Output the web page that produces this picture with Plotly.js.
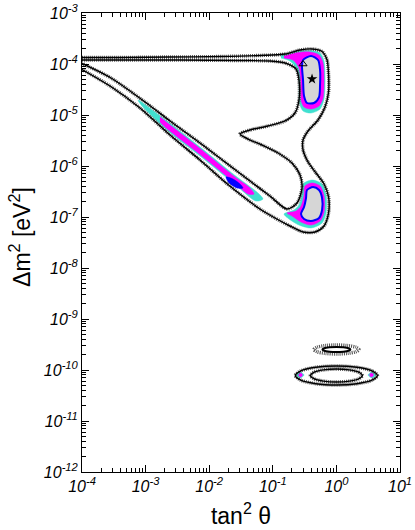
<!DOCTYPE html>
<html>
<head>
<meta charset="utf-8">
<script src="https://cdn.plot.ly/plotly-3.0.1.min.js"></script>
<style>
html,body{margin:0;padding:0;background:#fff;}
#chart{width:415px;height:530px;}
</style>
</head>
<body>
<div id="chart"></div>
<script>
/* ==========================================
   CONTOUR DATA  (x = tan^2 theta, y = dm^2 [eV^2])
========================================== */

// outer edge of the big allowed band
const outerTan2 = [1e-4, 3.96e-4, 2.42e-3, 1.48e-2, 0.0628, 0.156, 0.268, 0.414, 0.595, 0.713, 0.753, 0.753, 0.663, 0.514, 0.358, 0.299, 0.299, 0.358, 0.478, 0.639, 0.753, 0.753, 0.639, 0.461, 0.299, 0.186, 0.108, 0.0628, 0.0365, 0.0177, 7.17e-3, 2.42e-3, 8.16e-4, 2.76e-4, 1e-4];
const outerDm2 = [1.34e-4, 1.34e-4, 1.37e-4, 1.40e-4, 1.47e-4, 1.57e-4, 1.88e-4, 1.97e-4, 1.76e-4, 1.20e-4, 6.08e-5, 2.83e-5, 1.44e-5, 7.98e-6, 4.86e-6, 3.23e-6, 2.06e-6, 1.20e-6, 7.29e-7, 4.44e-7, 2.47e-7, 1.20e-7, 6.66e-8, 5.08e-8, 5.08e-8, 6.66e-8, 9.56e-8, 1.435e-7, 2.36e-7, 4.86e-7, 1.31e-6, 4.05e-6, 1.372e-5, 3.70e-5, 7.80e-5];

// inner (excluded) hole
const holeTan2 = [1e-4, 3.96e-4, 3.47e-3, 0.0305, 0.0902, 0.156, 0.232, 0.258, 0.258, 0.223, 0.156, 0.0839, 0.0438, 0.0305, 0.0407, 0.0675, 0.121, 0.200, 0.268, 0.288, 0.240, 0.167, 0.0902, 0.0438, 0.0177, 7.17e-3, 2.42e-3, 9.79e-4, 2.86e-4, 1e-4];
const holeDm2 = [1.198e-4, 1.198e-4, 1.198e-4, 1.171e-4, 1.145e-4, 1.046e-4, 7.98e-5, 4.86e-5, 1.97e-5, 1.094e-5, 7.63e-6, 6.09e-6, 5.08e-6, 4.24e-6, 3.38e-6, 2.58e-6, 1.80e-6, 1.145e-6, 6.66e-7, 3.70e-7, 1.88e-7, 1.435e-7, 2.58e-7, 5.08e-7, 1.198e-6, 2.83e-6, 7.63e-6, 1.80e-5, 5.31e-5, 1.023e-4];

// LMA island
const lmaCyanTan2 = [0.1345, 0.223, 0.399, 0.553, 0.639, 0.663, 0.639, 0.553, 0.399, 0.299, 0.263, 0.258, 0.240, 0.186, 0.1345];
const lmaCyanDm2 = [1.50e-4, 1.758e-4, 1.839e-4, 1.643e-4, 1.145e-4, 4.86e-5, 2.06e-5, 1.31e-5, 1.094e-5, 1.198e-5, 1.72e-5, 4.86e-5, 7.98e-5, 1.145e-4, 1.311e-4];
const lmaMagTan2 = [0.150, 0.223, 0.385, 0.533, 0.617, 0.639, 0.617, 0.533, 0.399, 0.310, 0.278, 0.273, 0.258, 0.208, 0.150];
const lmaMagDm2 = [1.435e-4, 1.643e-4, 1.719e-4, 1.501e-4, 1.046e-4, 4.86e-5, 2.154e-5, 1.50e-5, 1.31e-5, 1.435e-5, 1.97e-5, 4.86e-5, 8.35e-5, 1.198e-4, 1.311e-4];
const lmaGrayTan2 = [0.299, 0.399, 0.514, 0.553, 0.553, 0.533, 0.445, 0.345, 0.310, 0.299, 0.288, 0.299];
const lmaGrayDm2 = [1.198e-4, 1.435e-4, 1.198e-4, 7.63e-5, 3.87e-5, 2.25e-5, 1.72e-5, 1.72e-5, 2.36e-5, 4.86e-5, 9.14e-5, 1.198e-4];

// LOW island
const lowCyanTan2 = [0.299, 0.414, 0.595, 0.687, 0.687, 0.595, 0.399, 0.258, 0.180, 0.150, 0.215, 0.258, 0.288, 0.299];
const lowCyanDm2 = [4.44e-7, 5.31e-7, 4.44e-7, 2.70e-7, 1.198e-7, 7.63e-8, 6.09e-8, 6.97e-8, 9.14e-8, 1.145e-7, 1.37e-7, 1.72e-7, 2.825e-7, 4.44e-7];
const lowMagTan2 = [0.321, 0.414, 0.553, 0.639, 0.639, 0.553, 0.399, 0.278, 0.200, 0.167, 0.232, 0.278, 0.310, 0.321];
const lowMagDm2 = [4.05e-7, 4.64e-7, 4.05e-7, 2.58e-7, 1.25e-7, 8.35e-8, 6.97e-8, 7.98e-8, 1.046e-7, 1.198e-7, 1.31e-7, 1.643e-7, 2.70e-7, 4.05e-7];
const lowGrayTan2 = [0.345, 0.429, 0.533, 0.595, 0.595, 0.533, 0.399, 0.310, 0.278, 0.310, 0.333, 0.345];
const lowGrayDm2 = [3.38e-7, 3.87e-7, 3.38e-7, 2.36e-7, 1.37e-7, 9.56e-8, 8.35e-8, 9.14e-8, 1.145e-7, 1.57e-7, 2.36e-7, 3.38e-7];

// diagonal (SMA-like) stripe
const smaCyanTan2 = [7.60e-4, 2.02e-3, 7.17e-3, 2.545e-2, 5.85e-2, 0.0700, 5.44e-2, 2.545e-2, 7.17e-3, 2.02e-3, 8.78e-4, 7.60e-4];
const smaCyanDm2 = [1.97e-5, 8.16e-6, 2.358e-6, 6.515e-7, 2.954e-7, 2.254e-7, 2.059e-7, 4.337e-7, 1.571e-6, 5.435e-6, 1.501e-5, 1.97e-5];
const smaMagTan2 = [1.68e-3, 2.02e-3, 7.17e-3, 2.545e-2, 4.38e-2, 5.06e-2, 4.07e-2, 2.545e-2, 7.17e-3, 2.02e-3, 1.68e-3];
const smaMagDm2 = [9.14e-6, 7.63e-6, 2.203e-6, 6.09e-7, 3.70e-7, 2.825e-7, 2.825e-7, 4.64e-7, 1.680e-6, 5.815e-6, 7.29e-6];
const smaBlueTan2 = [1.84e-2, 2.37e-2, 3.05e-2, 3.40e-2, 2.74e-2, 2.05e-2, 1.84e-2];
const smaBlueDm2 = [6.09e-7, 5.56e-7, 4.44e-7, 3.70e-7, 3.70e-7, 4.64e-7, 6.09e-7];

// vacuum islands near dm^2 ~ 1e-10
const vacOuterTan2 = [4.42, 3.62, 2.10, 1.0, 0.475, 0.276, 0.226, 0.276, 0.475, 1.0, 2.10, 3.62, 4.42];
const vacOuterDm2 = [7.80e-11, 9.66e-11, 1.13e-10, 1.20e-10, 1.13e-10, 9.66e-11, 7.80e-11, 6.30e-11, 5.38e-11, 5.08e-11, 5.38e-11, 6.30e-11, 7.80e-11];
const vacInnerTan2 = [2.56, 2.26, 1.60, 1.0, 0.625, 0.442, 0.390, 0.442, 0.625, 1.0, 1.60, 2.26, 2.56];
const vacInnerDm2 = [7.80e-11, 9.03e-11, 1.005e-10, 1.045e-10, 1.005e-10, 9.03e-11, 7.80e-11, 6.74e-11, 6.05e-11, 5.82e-11, 6.05e-11, 6.74e-11, 7.80e-11];
const vacSmallTan2 = [1.66, 1.55, 1.29, 1.0, 0.776, 0.645, 0.603, 0.645, 0.776, 1.0, 1.29, 1.55, 1.66];
const vacSmallDm2 = [2.52e-10, 2.67e-10, 2.78e-10, 2.82e-10, 2.78e-10, 2.67e-10, 2.52e-10, 2.38e-10, 2.29e-10, 2.25e-10, 2.29e-10, 2.38e-10, 2.52e-10];
const vacSmallDotTan2 = [2.26, 2.03, 1.50, 1.0, 0.665, 0.494, 0.443, 0.494, 0.665, 1.0, 1.50, 2.03, 2.26];
const vacSmallDotDm2 = [2.52e-10, 2.79e-10, 3.01e-10, 3.09e-10, 3.01e-10, 2.79e-10, 2.52e-10, 2.28e-10, 2.12e-10, 2.06e-10, 2.12e-10, 2.28e-10, 2.52e-10];
const vacCyanLTan2 = [0.232, 0.268, 0.310, 0.268, 0.232];
const vacCyanRTan2 = [3.14, 3.63, 4.19, 3.63, 3.14];
const vacCyanDm2 = [7.98e-11, 9.14e-11, 7.98e-11, 6.97e-11, 7.98e-11];
const vacMagLTan2 = [0.254, 0.273, 0.293, 0.273, 0.254];
const vacMagRTan2 = [3.31, 3.56, 3.83, 3.56, 3.31];
const vacMagDm2 = [7.98e-11, 8.73e-11, 7.98e-11, 7.29e-11, 7.98e-11];

// best-fit points
const starTan2 = [0.414];
const starDm2 = [5.08e-5];
const triTan2 = [0.299];
const triDm2 = [1.0e-4];

// axis ticks
const xTickVals = [1e-4, 1e-3, 1e-2, 1e-1, 1, 10];
const xTickText = ["10<sup>-4</sup>", "10<sup>-3</sup>", "10<sup>-2</sup>", "10<sup>-1</sup>", "10<sup>0</sup>", "10<sup>1</sup>"];
const yTickVals = [1e-12, 1e-11, 1e-10, 1e-9, 1e-8, 1e-7, 1e-6, 1e-5, 1e-4, 1e-3];
const yTickText = ["10<sup>-12</sup>", "10<sup>-11</sup>", "10<sup>-10</sup>", "10<sup>-9</sup>", "10<sup>-8</sup>", "10<sup>-7</sup>", "10<sup>-6</sup>", "10<sup>-5</sup>", "10<sup>-4</sup>", "10<sup>-3</sup>"];


/* ==========================================
   TRACE HELPERS
========================================== */

const CYAN = "#40e0d0";
const MAGENTA = "#ff00ff";
const BLUE = "#0000ff";
const GRAY = "#d6d6d6";

function patch(x, y, color, edge, edgeWidth){
    return {
        x:x, y:y, type:"scatter", mode:"lines",
        fill:"toself", fillcolor:color,
        line:{color:edge || color, width:edgeWidth || 0.5, shape:"spline", smoothing:0.8},
        hoverinfo:"skip"
    };
}

function halo(x, y){
    return {
        x:x, y:y, type:"scatter", mode:"lines",
        line:{color:"#555", width:3.5, dash:"1px,1px", shape:"spline", smoothing:0.8},
        hoverinfo:"skip"
    };
}

function solid(x, y, w){
    return {
        x:x, y:y, type:"scatter", mode:"lines",
        line:{color:"#000", width:w || 1.4, shape:"spline", smoothing:0.8},
        hoverinfo:"skip"
    };
}


/* ==========================================
   DRAW
========================================== */

function drawChart(){

    const traces = [
        patch(lmaCyanTan2, lmaCyanDm2, CYAN),
        patch(lowCyanTan2, lowCyanDm2, CYAN),
        patch(smaCyanTan2, smaCyanDm2, CYAN),
        patch(vacCyanLTan2, vacCyanDm2, CYAN),
        patch(vacCyanRTan2, vacCyanDm2, CYAN),

        patch(lmaMagTan2, lmaMagDm2, MAGENTA),
        patch(lowMagTan2, lowMagDm2, MAGENTA),
        patch(smaMagTan2, smaMagDm2, MAGENTA),
        patch(vacMagLTan2, vacMagDm2, MAGENTA),
        patch(vacMagRTan2, vacMagDm2, MAGENTA),

        patch(lmaGrayTan2, lmaGrayDm2, GRAY, BLUE, 2),
        patch(lowGrayTan2, lowGrayDm2, GRAY, BLUE, 2),
        patch(smaBlueTan2, smaBlueDm2, BLUE),

        halo(outerTan2, outerDm2),
        halo(holeTan2, holeDm2),
        halo(vacOuterTan2, vacOuterDm2),
        halo(vacInnerTan2, vacInnerDm2),
        halo(vacSmallDotTan2, vacSmallDotDm2),

        solid(outerTan2, outerDm2),
        solid(holeTan2, holeDm2),
        solid(vacOuterTan2, vacOuterDm2),
        solid(vacInnerTan2, vacInnerDm2),
        solid(vacSmallTan2, vacSmallDm2, 2),

        {
            x:starTan2, y:starDm2, type:"scatter", mode:"markers",
            marker:{symbol:"star", size:8, color:"#000"},
            hoverinfo:"skip"
        },
        {
            x:triTan2, y:triDm2, type:"scatter", mode:"markers",
            marker:{symbol:"triangle-up-open", size:7, color:"#000", line:{width:1}},
            hoverinfo:"skip"
        },

        // empty trace that carries the minor-tick axes
        {x:[], y:[], type:"scatter", mode:"lines", xaxis:"x2", yaxis:"y2", hoverinfo:"skip"}
    ];

    const fontFamily = "Liberation Sans, Arial, sans-serif";
    const axisFont = {family:fontFamily, size:16, color:"#000", style:"italic"};
    const minorTicks = {ticks:"inside", ticklen:4, tickcolor:"#000", dtick:"D1", showgrid:false};

    const minorAxis = {
        type:"log",
        dtick:"D1",
        ticks:"inside",
        ticklen:4,
        tickcolor:"#000",
        showticklabels:false,
        showline:false,
        showgrid:false,
        zeroline:false,
        mirror:"allticks"
    };

    const layout = {
        width:415,
        height:530,
        margin:{l:82, r:15, t:13, b:58},
        paper_bgcolor:"#fff",
        plot_bgcolor:"#fff",
        showlegend:false,
        hovermode:false,
        font:{family:fontFamily, color:"#000"},
        xaxis:{
            type:"log",
            range:[-4, 1],
            tickmode:"array",
            tickvals:xTickVals,
            ticktext:xTickText,
            ticks:"inside",
            ticklen:7,
            tickcolor:"#000",
            tickfont:axisFont,
            showline:true,
            linecolor:"#000",
            linewidth:1,
            mirror:"allticks",
            showgrid:false,
            zeroline:false,
            minor:minorTicks,
            title:{text:"tan<sup>2</sup> θ", font:{size:23}, standoff:13}
        },
        yaxis:{
            type:"log",
            range:[-12, -3],
            tickmode:"array",
            tickvals:yTickVals,
            ticktext:yTickText,
            ticks:"inside",
            ticklen:7,
            tickcolor:"#000",
            tickfont:axisFont,
            showline:true,
            linecolor:"#000",
            linewidth:1,
            mirror:"allticks",
            showgrid:false,
            zeroline:false,
            minor:minorTicks
        },
        xaxis2:Object.assign({}, minorAxis, {range:[-4, 1], overlaying:"x", anchor:"y2", side:"bottom"}),
        yaxis2:Object.assign({}, minorAxis, {range:[-12, -3], overlaying:"y", anchor:"x2", side:"left"}),
        annotations:[
            {
                text:"Δm<sup>2</sup> [eV<sup>2</sup>]",
                xref:"paper", yref:"paper",
                x:-0.195, y:0.512,
                xanchor:"center", yanchor:"middle",
                textangle:-90,
                showarrow:false,
                font:{family:fontFamily, size:23, color:"#000"}
            }
        ]
    };

    Plotly.newPlot("chart", traces, layout, {staticPlot:true, displayModeBar:false});

}

drawChart();
</script>
</body>
</html>
